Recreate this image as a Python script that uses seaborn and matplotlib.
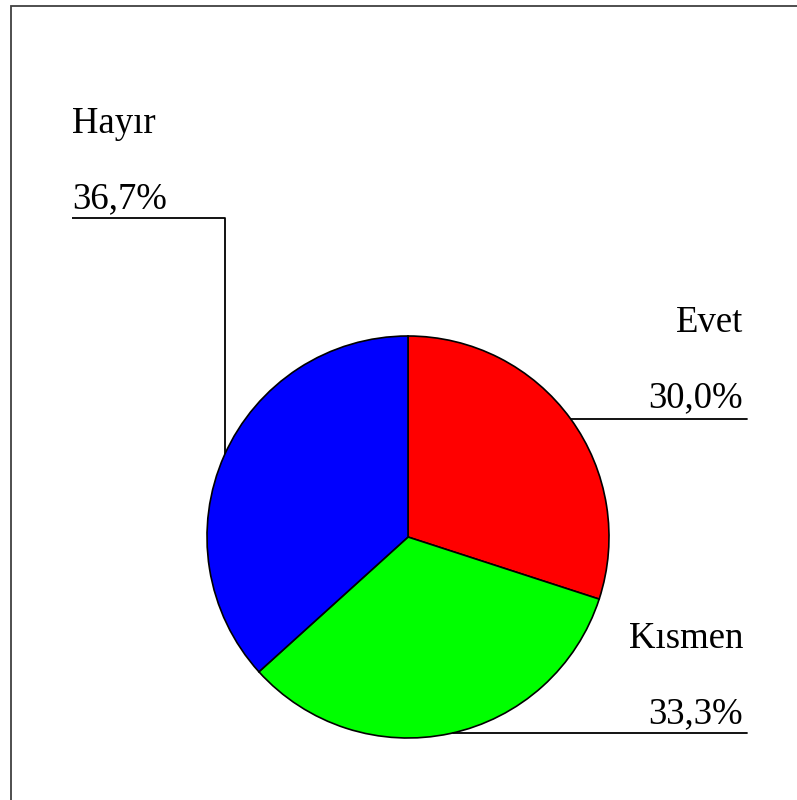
import numpy as np
import matplotlib
matplotlib.use("Agg")
import matplotlib.pyplot as plt
from matplotlib.patches import Rectangle
import seaborn as sns

# data
labels = ["Evet", "Kısmen", "Hayır"]
values = [30.0, 33.3, 36.7]
pct_labels = ["30,0%", "33,3%", "36,7%"]
colors = ["#FF0000", "#00FF00", "#0000FF"]

sns.set_style("white")
plt.rcParams['font.family'] = ['Liberation Serif', 'DejaVu Serif']
plt.rcParams['text.color'] = 'black'

W, H = 797, 800
fig = plt.figure(figsize=(W / 100, H / 100), dpi=100)
ax = fig.add_axes([0, 0, 1, 1])

# work in pixel-like coordinates (y measured from bottom)
cx, cy, r = 408, H - 537, 201
ax.pie(values, colors=colors, startangle=90, counterclock=False,
       center=(cx, cy), radius=r,
       wedgeprops=dict(edgecolor="black", linewidth=1.2))
ax.set_xlim(0, W)
ax.set_ylim(0, H)
ax.set_aspect("auto")
ax.axis("off")

fs = 26.5
lw = 1.3


def edge_x(y, side):
    # x where horizontal line at y meets the circle
    dy = y - cy
    dx = np.sqrt(max(r * r - dy * dy, 0))
    return cx + side * dx


# Hayır - upper left
ax.text(72, H - 133, labels[2], fontsize=fs, ha="left", va="baseline", color="black")
ax.text(72, H - 208, pct_labels[2], fontsize=fs, ha="left", va="baseline", color="black")
ux, uy = 225, H - 218
vy = cy + np.sqrt(r * r - (ux - cx) ** 2)
ax.plot([72, ux, ux], [uy, uy, vy], color="black", lw=lw, solid_capstyle="butt")

# Evet - right
ax.text(743, H - 332, labels[0], fontsize=fs, ha="right", va="baseline", color="black")
ax.text(743, H - 407, pct_labels[0], fontsize=fs, ha="right", va="baseline", color="black")
ly = H - 419
ax.plot([edge_x(ly, 1), 747], [ly, ly], color="black", lw=lw)

# Kısmen - lower right
ax.text(743, H - 648, labels[1], fontsize=fs, ha="right", va="baseline", color="black")
ax.text(743, H - 723, pct_labels[1], fontsize=fs, ha="right", va="baseline", color="black")
ly = H - 733
ax.plot([edge_x(ly, 1), 747], [ly, ly], color="black", lw=lw)

# frame border (runs off the right and bottom edges)
ax.add_patch(Rectangle((11, -20), W + 20, H - 6 + 20, fill=False,
                       edgecolor="#404040", lw=1.3, clip_on=False))

fig.savefig("out.png", dpi=100, facecolor="white")
